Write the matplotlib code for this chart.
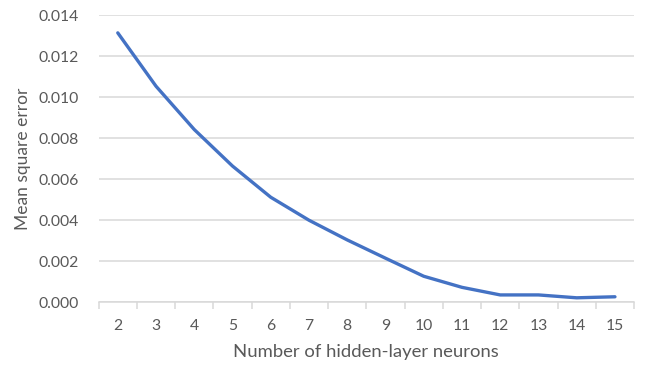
import matplotlib
matplotlib.use("Agg")
import matplotlib.pyplot as plt
import numpy as np

neurons = [2, 3, 4, 5, 6, 7, 8, 9, 10, 11, 12, 13, 14, 15]
mse = [0.01313, 0.01053, 0.00842, 0.00664, 0.00512, 0.00400, 0.00304,
       0.00215, 0.00127, 0.00073, 0.00036, 0.00036, 0.00022, 0.00027]
y_ticks = [0.000, 0.002, 0.004, 0.006, 0.008, 0.010, 0.012, 0.014]

plt.rcParams['font.family'] = ['Lato', 'DejaVu Sans']
text_color = '#595959'
grid_color = '#d9d9d9'

fig = plt.figure(figsize=(6.49, 3.66), dpi=100)
ax = fig.add_axes([0.152, 0.174, 0.825, 0.785])

pos = np.arange(len(neurons))
ax.plot(pos, mse, color='#4472C4', linewidth=2.4, solid_capstyle='round',
        solid_joinstyle='round', zorder=3)

ax.set_xlim(-0.5, len(neurons) - 0.5)
ax.set_ylim(0, 0.014)
ax.set_yticks(y_ticks)
ax.set_yticklabels([f"{v:.3f}" for v in y_ticks])
ax.set_xticks(pos)
ax.set_xticklabels([str(n) for n in neurons])
ax.set_xticks(np.arange(-0.5, len(neurons), 1.0), minor=True)

ax.grid(axis='y', color=grid_color, linewidth=1.1, zorder=0)
for s in ['top', 'right', 'left']:
    ax.spines[s].set_visible(False)
ax.spines['bottom'].set_color(grid_color)
ax.spines['bottom'].set_linewidth(1.1)

ax.tick_params(axis='y', length=0, pad=14, labelsize=11.3, labelcolor=text_color)
ax.tick_params(axis='x', which='major', length=0, pad=12, labelsize=11.3,
               labelcolor=text_color)
ax.tick_params(axis='x', which='minor', length=5, width=1.1, color=grid_color,
               direction='out')

ax.set_xlabel('Number of hidden-layer neurons', fontsize=13.3, color=text_color,
              labelpad=8)
ax.set_ylabel('Mean square error', fontsize=12.5, color=text_color, labelpad=6)

fig.savefig('out.png', dpi=100)
